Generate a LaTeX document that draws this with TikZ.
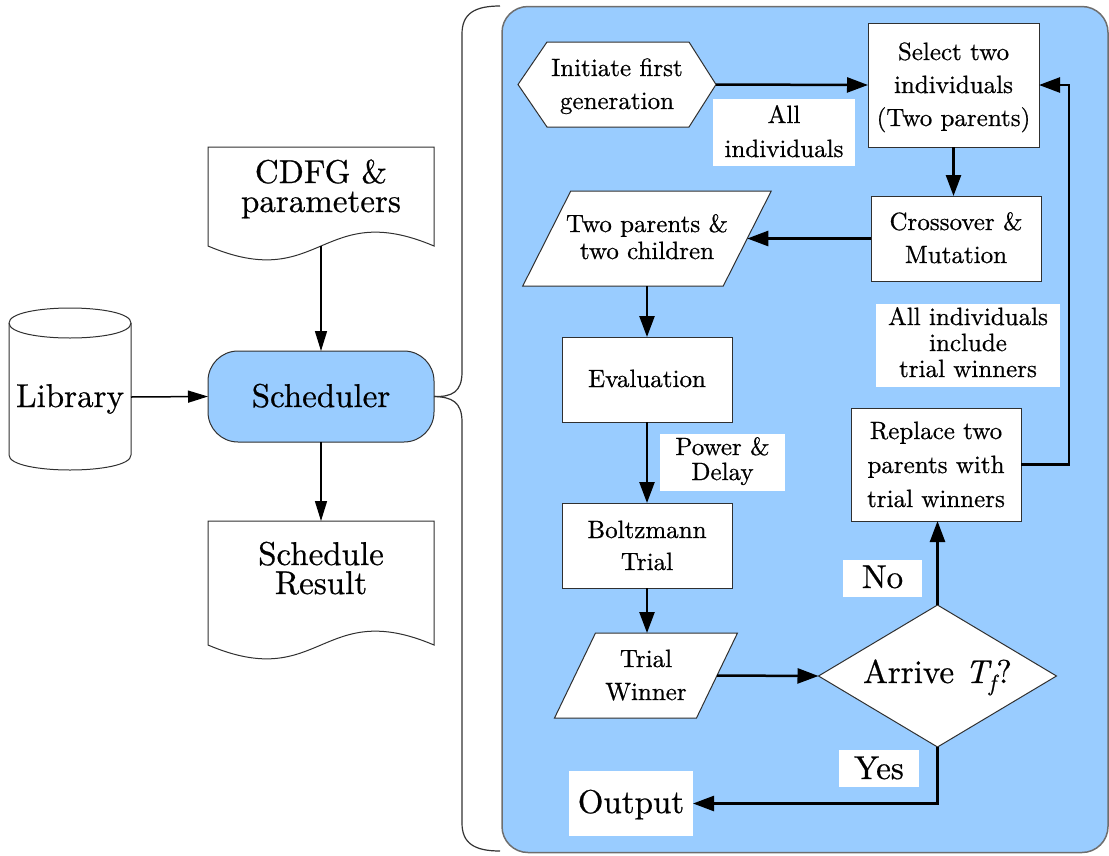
\documentclass[tikz,border=0pt]{standalone}
\usepackage{fontspec}
\setmainfont{lmroman10-regular.otf}[ItalicFont=lmroman10-italic.otf,BoldFont=lmroman10-bold.otf,UprightFeatures={FakeBold=0.6},ItalicFeatures={FakeBold=0.6}]
\usetikzlibrary{arrows.meta,calc}
\pgfdeclarelayer{bg}
\pgfdeclarelayer{mid}
\pgfsetlayers{bg,mid,main}
\definecolor{skyfill}{HTML}{99CCFF}
\definecolor{edgegray}{HTML}{303030}
\definecolor{panelgray}{HTML}{6E6E6E}
\begin{document}
\begin{tikzpicture}[x=1pt,y=-1pt,
  every node/.style={inner sep=0pt,outer sep=0pt,align=center},
  bigfont/.style={font=\fontsize{33}{29}\selectfont},
  smallfont/.style={font=\fontsize{25}{33}\selectfont},
  procbox/.style={draw=edgegray,line width=1pt,fill=white,smallfont},
  ghostbox/.style={smallfont},
  lbl/.style={fill=white,smallfont},
  shapeline/.style={draw=edgegray,line width=1pt,fill=white},
  thinarrow/.style={line width=1.5pt,-{Triangle[length=20pt,width=12pt]}},
  flow/.style={line width=2.5pt,-{Triangle[length=21pt,width=15pt]}},
  bracestyle/.style={draw=black!80,line width=1.2pt}
]
\useasboundingbox (0,0) rectangle (1109,855);

\begin{pgfonlayer}{bg}
\node[draw=panelgray,line width=1.5pt,fill=skyfill,rounded corners=26pt,minimum width=606pt,minimum height=846pt] (panel) at (805,429.5) {};
\end{pgfonlayer}

% ---- left side ----
\node[bigfont,minimum width=226pt,minimum height=99pt,text height=31pt,text depth=0pt] (cdfg) at (321,196.5) {CDFG \&\\parameters};
\node[bigfont,minimum width=122pt,minimum height=148pt,text height=20pt,text depth=0pt] (lib) at (70,397) {Library};
\node[bigfont,draw=edgegray,line width=1pt,fill=skyfill,rounded corners=30pt,minimum width=226pt,minimum height=91pt,text height=21pt,text depth=0pt] (sched) at (321,396.5) {Scheduler};
\node[bigfont,minimum width=226pt,minimum height=124pt,text height=22pt,text depth=0pt] (res) at (321,583) {Schedule\\Result};

% ---- right panel ----
\node[ghostbox,minimum width=198pt,minimum height=85pt,text height=49pt,text depth=0pt] (init) at (617,84.5) {Initiate first\\generation};
\node[procbox,minimum width=171pt,minimum height=124pt,text height=82pt,text depth=0pt] (sel) at (953.5,85) {Select two\\individuals\\(Two parents)};
\node[lbl,font=\fontsize{25}{34}\selectfont,minimum width=142pt,minimum height=67pt,text height=49pt,text depth=0pt] (lall) at (784,132.5) {All\\individuals};
\node[procbox,minimum width=170pt,minimum height=85pt,text height=49pt,text depth=0pt] (cross) at (956,238.5) {Crossover \&\\Mutation};
\node[ghostbox,font=\fontsize{25}{27}\selectfont,minimum width=200.5pt,minimum height=95pt,text height=41pt,text depth=0pt] (tp) at (647,238.5) {Two parents \&\\two children};
\node[procbox,minimum width=170pt,minimum height=85pt,text height=15pt,text depth=0pt] (eval) at (647,379.5) {Evaluation};
\node[lbl,font=\fontsize{25}{25}\selectfont,minimum width=125pt,minimum height=57pt,text height=35pt,text depth=0pt] (lpd) at (722.5,462.5) {Power \&\\Delay};
\node[procbox,font=\fontsize{25}{32}\selectfont,minimum width=170pt,minimum height=85pt,text height=49pt,text depth=0pt] (bolt) at (647,545.5) {Boltzmann\\Trial};
\node[ghostbox,minimum width=142pt,minimum height=85pt,text height=49pt,text depth=0pt] (tw) at (646,675.5) {Trial\\Winner};
\node[bigfont,minimum width=238pt,minimum height=142pt,text height=14pt,text depth=0pt] (dia) at (937.5,676) {Arrive \textit{T\textsubscript{f}}?};
\node[procbox,font=\fontsize{25}{34}\selectfont,minimum width=170pt,minimum height=113pt,text height=85pt,text depth=0pt] (rep) at (936,464.5) {Replace two\\parents with\\trial winners};
\node[lbl,font=\fontsize{25}{26}\selectfont,minimum width=184pt,minimum height=83pt,text height=63pt,text depth=0pt] (lincl) at (968,345.5) {All individuals\\include\\trial winners};
\node[lbl,bigfont,minimum width=79pt,minimum height=37pt,text height=19pt,text depth=0pt] (lno) at (882.5,578.5) {No};
\node[lbl,bigfont,minimum width=80pt,minimum height=37pt,text height=21pt,text depth=0pt] (lyes) at (879,768.5) {Yes};
\node[lbl,bigfont,minimum width=124pt,minimum height=65pt,text height=19pt,text depth=0pt] (out) at (631,803.5) {Output};

% ---- outlines of non-rectangular shapes ----
\begin{pgfonlayer}{mid}
\draw[shapeline] (cdfg.north west) -- (cdfg.north east) -- (cdfg.south east)
  .. controls ($(cdfg.south)+(0,-48)$) and ($(cdfg.south)+(0,48)$) .. (cdfg.south west) -- cycle;
\draw[shapeline] (res.north west) -- (res.north east) -- (res.south east)
  .. controls ($(res.south)+(0,-48)$) and ($(res.south)+(0,48)$) .. (res.south west) -- cycle;
\draw[shapeline] (9,323) -- (9,455) .. controls (9,475) and (131,475) .. (131,455) -- (131,323)
  .. controls (131,303) and (9,303) .. (9,323) -- cycle;
\draw[draw=edgegray,line width=1pt] (9,323) .. controls (9,343) and (131,343) .. (131,323);
\draw[shapeline] (init.west) -- ($(init.north west)+(29,0)$) -- ($(init.north east)+(-27,0)$) -- (init.east)
  -- ($(init.south east)+(-27,0)$) -- ($(init.south west)+(29,0)$) -- cycle;
\draw[shapeline] ($(tp.north west)+(24,0)$) -- ($(tp.north east)+(24,0)$) -- ($(tp.south east)+(-24,0)$) -- ($(tp.south west)+(-24,0)$) -- cycle;
\draw[shapeline] ($(tw.north west)+(20.5,0)$) -- ($(tw.north east)+(20.5,0)$) -- ($(tw.south east)+(-20.5,0)$) -- ($(tw.south west)+(-20.5,0)$) -- cycle;
\draw[shapeline] (dia.north) -- (dia.east) -- (dia.south) -- (dia.west) -- cycle;
\end{pgfonlayer}

% ---- left connectors ----
\draw[thinarrow] (cdfg.south) -- (sched.north);
\draw[thinarrow] (lib.east) -- (sched.west);
\draw[thinarrow] (sched.south) -- (res.north);
\draw[bracestyle] (sched.east) .. controls (452,397) and (462,392) .. (462,372) -- (462,34) .. controls (462,14) and (474,6) .. (500,6);
\draw[bracestyle] (sched.east) .. controls (452,397) and (462,402) .. (462,422) -- (462,823) .. controls (462,843) and (474,851) .. (500,851);

% ---- right connectors ----
\draw[flow] (init.east) -- (sel.west);
\draw[flow] (sel.south) -- (sel.south |- cross.north);
\draw[flow] (cross.west) -- (tp.east);
\draw[flow] (tp.south) -- (eval.north);
\draw[flow] (eval.south) -- (bolt.north);
\draw[flow] (bolt.south) -- (bolt.south |- tw.north);
\draw[flow] (tw.east) -- (dia.west);
\draw[flow] (dia.north) -- (dia.north |- rep.south);
\draw[flow] (rep.east) -- ++(48,0) |- (sel.east);
\draw[flow] (dia.south) |- (out.east);
\end{tikzpicture}
\end{document}
